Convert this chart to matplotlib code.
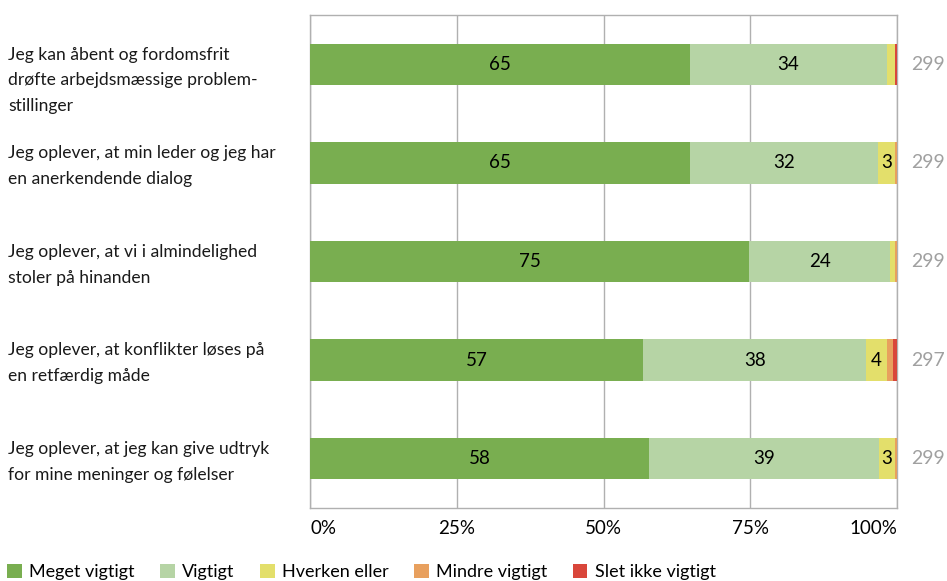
import matplotlib.pyplot as plt
import matplotlib.transforms as mtransforms
import numpy as np

plt.rcParams['font.family'] = ['Lato', 'DejaVu Sans']

# DATA
statements = [
    "Jeg kan åbent og fordomsfrit\ndrøfte arbejdsmæssige problem-\nstillinger",
    "Jeg oplever, at min leder og jeg har\nen anerkendende dialog",
    "Jeg oplever, at vi i almindelighed\nstoler på hinanden",
    "Jeg oplever, at konflikter løses på\nen retfærdig måde",
    "Jeg oplever, at jeg kan give udtryk\nfor mine meninger og følelser",
]
meget_vigtigt = [64.7, 64.7, 74.8, 56.8, 57.8]
vigtigt = [33.6, 32.1, 24.0, 37.9, 39.1]
hverken_eller = [1.3, 2.9, 0.9, 3.6, 2.8]
mindre_vigtigt = [0.0, 0.3, 0.3, 1.0, 0.3]
slet_ikke = [0.4, 0.0, 0.0, 0.7, 0.0]
n_answers = [299, 299, 299, 297, 299]

series_names = ["Meget vigtigt", "Vigtigt", "Hverken eller", "Mindre vigtigt", "Slet ikke vigtigt"]
series = [meget_vigtigt, vigtigt, hverken_eller, mindre_vigtigt, slet_ikke]
colors = ["#79AE50", "#B6D4A5", "#E3DF6B", "#E8A05E", "#D9463B"]

fig = plt.figure(figsize=(9.47, 5.81), dpi=100)
ax = fig.add_axes([310 / 947, 1 - 508 / 581, 587 / 947, 493 / 581])

y = np.arange(len(statements))
left = np.zeros(len(statements))
for name, vals, col in zip(series_names, series, colors):
    vals = np.array(vals)
    ax.barh(y, vals, left=left, height=0.42, color=col, label=name, zorder=3)
    for yi, (l, v) in enumerate(zip(left, vals)):
        if v >= 2.5:
            ax.text(l + v / 2, yi, f"{v:.0f}", ha='center', va='center',
                    fontsize=13.5, color='black', zorder=4)
    left += vals

ax.set_xlim(0, 100)
ax.set_ylim(len(statements) - 0.5, -0.5)
ax.set_yticks([])
ax.set_xticks([0, 25, 50, 75, 100])
ax.set_xticklabels(["0%", "25%", "50%", "75%", "100%"], fontsize=13.5)
xl = ax.get_xticklabels()
xl[0].set_horizontalalignment('left')
xl[-1].set_horizontalalignment('right')
ax.tick_params(axis='x', length=0, pad=9)
ax.grid(axis='x', color='#B0B0B0', linewidth=1, zorder=0)
for s in ax.spines.values():
    s.set_color('#B0B0B0')
    s.set_linewidth(1)

# statement labels at the left
trans = mtransforms.blended_transform_factory(fig.transFigure, ax.transData)
for yi, lab in enumerate(statements):
    ax.text(8 / 947, yi - 0.18, lab, transform=trans, ha='left', va='top',
            fontsize=12.6, linespacing=1.76, color='#1a1a1a')

# number of answers on the right
trans2 = mtransforms.blended_transform_factory(ax.transAxes, ax.transData)
for yi, n in enumerate(n_answers):
    ax.text(1.024, yi, str(n), transform=trans2, ha='left', va='center',
            fontsize=14, color='#A0A0A0')

leg = ax.legend(loc='center left', bbox_to_anchor=(0.0, 9 / 581),
                bbox_transform=fig.transFigure, ncol=5, frameon=False,
                fontsize=13, handlelength=0.8, handleheight=0.8,
                handletextpad=0.4, columnspacing=1.43, borderaxespad=0)

fig.savefig("out.png", dpi=100)
